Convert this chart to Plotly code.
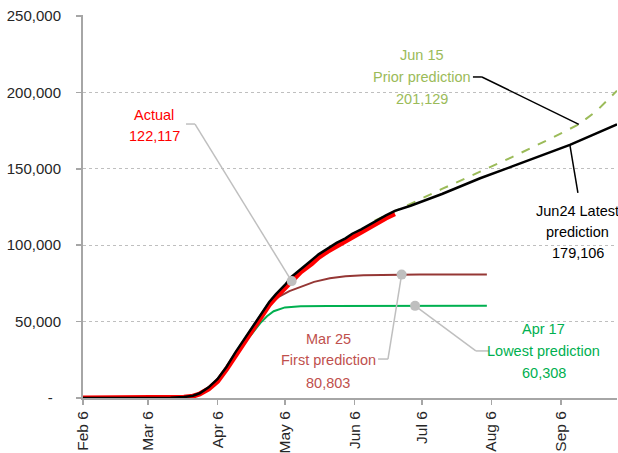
import plotly.graph_objects as go

# ---------------- data ----------------
actual_dates = ["2020-02-06", "2020-03-06", "2020-03-16", "2020-03-22", "2020-03-26", "2020-03-29",
                "2020-04-02", "2020-04-06", "2020-04-10", "2020-04-14", "2020-04-17", "2020-04-20",
                "2020-04-23", "2020-04-26", "2020-04-29", "2020-05-02", "2020-05-06", "2020-05-09",
                "2020-05-13", "2020-05-18", "2020-05-21", "2020-05-25", "2020-05-29", "2020-06-02",
                "2020-06-05", "2020-06-09", "2020-06-12", "2020-06-16", "2020-06-20", "2020-06-24"]
actual_vals = [0, 0, 80, 450, 1200, 2600,
               6000, 11000, 19000, 28000, 35000, 41000,
               47500, 54000, 60900, 66000, 72000, 76500,
               82500, 88000, 92000, 96000, 99500, 102500,
               105500, 108500, 111000, 114700, 117800, 120600]

latest_dates = ["2020-02-06", "2020-03-06", "2020-03-16", "2020-03-22", "2020-03-26", "2020-03-29",
                "2020-04-02", "2020-04-06", "2020-04-10", "2020-04-14", "2020-04-17", "2020-04-20",
                "2020-04-23", "2020-04-26", "2020-04-29", "2020-05-02", "2020-05-06", "2020-05-09",
                "2020-05-13", "2020-05-18", "2020-05-21", "2020-05-25", "2020-05-29", "2020-06-02",
                "2020-06-05", "2020-06-09", "2020-06-12", "2020-06-16", "2020-06-20", "2020-06-24",
                "2020-07-01", "2020-07-15", "2020-08-01", "2020-08-15", "2020-09-01", "2020-09-10",
                "2020-09-20", "2020-10-01"]
latest_vals = [0, 0, 100, 600, 1500, 3100,
               7000, 12500, 20500, 30000, 36700, 43000,
               49700, 56500, 62800, 68000, 74000, 79400,
               84500, 90300, 94000, 98000, 101500, 104500,
               107500, 110400, 113000, 116500, 119500, 122500,
               125800, 133500, 143800, 151400, 160700, 165600,
               172000, 179106]

prior_dates = ["2020-06-15", "2020-07-01", "2020-07-15", "2020-08-01", "2020-08-15", "2020-09-01",
               "2020-09-14", "2020-09-22", "2020-10-01"]
prior_vals = [116000, 127200, 136800, 148100, 157500, 169500,
              179100, 188000, 201129]

first_dates = ["2020-02-06", "2020-03-06", "2020-03-16", "2020-03-22", "2020-03-26", "2020-03-29",
               "2020-04-02", "2020-04-06", "2020-04-10", "2020-04-14", "2020-04-17", "2020-04-20",
               "2020-04-23", "2020-04-26", "2020-04-29", "2020-05-03", "2020-05-08", "2020-05-13",
               "2020-05-19", "2020-05-26", "2020-06-02", "2020-06-10", "2020-06-20", "2020-06-27",
               "2020-07-05", "2020-08-04"]
first_vals = [0, 0, 100, 500, 1300, 2800,
              6300, 11500, 19500, 28500, 35500, 42000,
              48500, 55000, 60500, 66000, 70000, 72700,
              76000, 78300, 79700, 80400, 80700, 80750,
              80800, 80803]

lowest_dates = ["2020-02-06", "2020-03-06", "2020-03-16", "2020-03-22", "2020-03-26", "2020-03-29",
                "2020-04-02", "2020-04-06", "2020-04-10", "2020-04-14", "2020-04-18", "2020-04-21",
                "2020-04-25", "2020-04-28", "2020-05-01", "2020-05-06", "2020-05-13", "2020-05-25",
                "2020-06-15", "2020-07-03", "2020-08-04"]
lowest_vals = [0, 0, 100, 500, 1300, 2800,
               6300, 11500, 19500, 28500, 36500, 41500,
               49000, 53500, 56800, 59300, 60100, 60280,
               60300, 60305, 60308]

x_tickvals = ["2020-02-06", "2020-03-06", "2020-04-06", "2020-05-06", "2020-06-06",
              "2020-07-06", "2020-08-06", "2020-09-06"]
x_ticktext = ["Feb 6", "Mar 6", "Apr 6", "May 6", "Jun 6", "Jul 6", "Aug 6", "Sep 6"]
y_tickvals = [0, 50000, 100000, 150000, 200000, 250000]
y_ticktext = ["-\u00a0\u00a0", "50,000", "100,000", "150,000", "200,000", "250,000"]

# ---------------- figure ----------------
RED = "#ff0000"
OLIVE = "#9bbb59"
BROWN = "#953735"
BROWN_TXT = "#c0504d"
GREEN = "#00b050"
GRAY = "#bfbfbf"
AXIS = "#a6a6a6"

fig = go.Figure()
fig.add_trace(go.Scatter(x=first_dates, y=first_vals, mode="lines",
                         line=dict(color=BROWN, width=2), hoverinfo="skip"))
fig.add_trace(go.Scatter(x=lowest_dates, y=lowest_vals, mode="lines",
                         line=dict(color=GREEN, width=2), hoverinfo="skip"))
fig.add_trace(go.Scatter(x=prior_dates, y=prior_vals, mode="lines",
                         line=dict(color=OLIVE, width=2, dash="dash"), hoverinfo="skip"))
fig.add_trace(go.Scatter(x=actual_dates, y=actual_vals, mode="lines",
                         line=dict(color=RED, width=5), hoverinfo="skip"))
fig.add_trace(go.Scatter(x=latest_dates, y=latest_vals, mode="lines",
                         line=dict(color="#000000", width=2.5), hoverinfo="skip"))

A = dict(zip(actual_dates, actual_vals))
L = dict(zip(latest_dates, latest_vals))
P = dict(zip(prior_dates, prior_vals))
F = dict(zip(first_dates, first_vals))
W = dict(zip(lowest_dates, lowest_vals))

anchors = [
    # (elbow_start, elbow_end, y_elbow, target_x, target_y, color, dot)
    ("2020-03-22 22:00", "2020-03-26 22:00", 179300, "2020-05-09", A["2020-05-09"], GRAY, True),
    ("2020-07-28 19:00", "2020-08-01 19:00", 210100, "2020-09-14", P["2020-09-14"], "#000000", False),
    ("2020-06-16 12:00", "2020-06-20 22:00", 25500, "2020-06-27", F["2020-06-27"], GRAY, True),
    ("2020-08-04 22:00", "2020-07-30 02:00", 30800, "2020-07-03", W["2020-07-03"], GRAY, True),
]
shapes = []
dots_x, dots_y = [], []
for xs, xe, ye, tx, ty, col, dot in anchors:
    shapes.append(dict(type="line", xref="x", yref="y", x0=xs, x1=xe, y0=ye, y1=ye,
                       line=dict(color=col, width=1.5)))
    shapes.append(dict(type="line", xref="x", yref="y", x0=xe, x1=tx, y0=ye, y1=ty,
                       line=dict(color=col, width=1.5)))
    if dot:
        dots_x.append(tx)
        dots_y.append(ty)
# Jun24 leader: straight from below label up to the black line
shapes.append(dict(type="line", xref="x", yref="y", x0="2020-09-13 14:00", x1="2020-09-10",
                   y0=134200, y1=L["2020-09-10"], line=dict(color="#000000", width=1.5)))

fig.add_trace(go.Scatter(x=dots_x, y=dots_y, mode="markers",
                         marker=dict(color=GRAY, size=10), hoverinfo="skip"))

FONT = "Liberation Sans, Arial, sans-serif"
labels = [
    ("2020-03-08 17:00", [185200, 171500], ["Actual", "122,117"], RED),
    ("2020-07-06", [224500, 210100, 195700], ["Jun 15", "Prior prediction", "201,129"], OLIVE),
    ("2020-09-13 12:00", [122400, 108600, 94900], ["Jun24 Latest", "prediction", "179,106"], "#000000"),
    ("2020-05-25 05:00", [38600, 24900, 9800], ["Mar 25", "First prediction", "80,803"], BROWN_TXT),
    ("2020-08-29 10:00", [45200, 30800, 16400], ["Apr 17", "Lowest prediction", "60,308"], GREEN),
]
annotations = []
for x, ys, texts, col in labels:
    for yy, t in zip(ys, texts):
        annotations.append(dict(x=x, y=yy, xref="x", yref="y", text=t, showarrow=False,
                                xanchor="center", yanchor="middle",
                                font=dict(family=FONT, size=14.5, color=col)))

fig.update_layout(
    width=618, height=453,
    margin=dict(l=83, r=1, t=15, b=55),
    paper_bgcolor="white", plot_bgcolor="white",
    showlegend=False,
    hovermode=False,
    shapes=shapes,
    annotations=annotations,
    xaxis=dict(type="date", range=["2020-02-06", "2020-10-01"], automargin=False,
               tickvals=x_tickvals, ticktext=x_ticktext, tickangle=-90,
               ticks="outside", ticklen=5, tickcolor=AXIS, tickwidth=1.5,
               showline=True, linecolor=AXIS, linewidth=2, showgrid=False, zeroline=False,
               ticklabeloverflow="allow",
               tickfont=dict(family="Liberation Sans, Arial, sans-serif", size=15.5, color="#262626")),
    yaxis=dict(range=[0, 250654], tickvals=y_tickvals, ticktext=y_ticktext, automargin=False,
               ticks="outside", ticklen=5, tickcolor=AXIS, tickwidth=1.5,
               showline=True, linecolor=AXIS, linewidth=2,
               showgrid=True, gridcolor=GRAY, griddash="dot", gridwidth=1, zeroline=False,
               ticklabelstandoff=12, ticklabeloverflow="allow",
               tickfont=dict(family=FONT, size=15, color="#262626")),
)

fig.write_html("out.html",
               config={"displayModeBar": False, "staticPlot": True},
               post_script="document.body.style.margin='0';"
                           "document.body.style.overflow='hidden';"
                           "document.documentElement.style.overflow='hidden';")
